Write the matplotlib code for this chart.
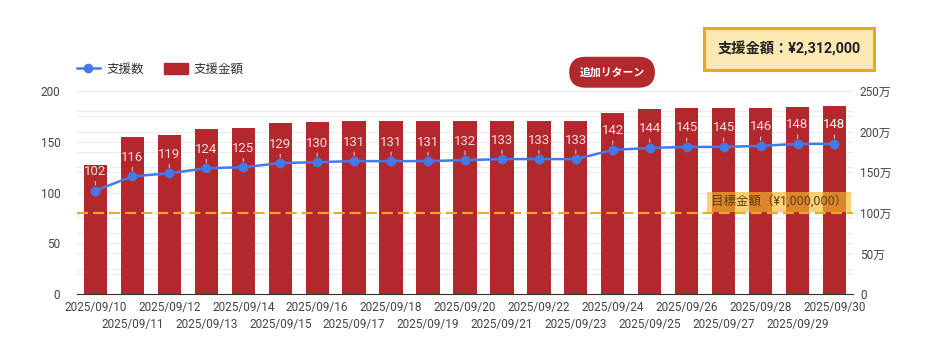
import numpy as np
import matplotlib
matplotlib.use("Agg")
import matplotlib.pyplot as plt
from matplotlib.lines import Line2D
from matplotlib.patches import Patch

plt.rcParams['font.family'] = ['Roboto', 'Noto Sans CJK JP', 'DejaVu Sans']

# data
dates = ['2025/09/%02d' % d for d in range(10, 31)]
counts = [102, 116, 119, 124, 125, 129, 130, 131, 131, 131, 132,
          133, 133, 133, 142, 144, 145, 145, 146, 148, 148]
amounts = [1593000, 1936000, 1960000, 2030000, 2043000, 2104000, 2116000,
           2129000, 2129000, 2129000, 2129000, 2129000, 2129000, 2129000,
           2236000, 2280000, 2288000, 2290000, 2295000, 2310000, 2312000]
target = 1000000
total_text = '支援金額：¥2,312,000'

bar_color = '#b3282d'
line_color = '#4479ea'
gold = '#f0a91c'
txt = '#444444'

fig = plt.figure(figsize=(9.33, 3.63), dpi=100)
ax = fig.add_axes([0.0825, 0.19, 0.8317, 0.559])   # bars, right scale
ax2 = ax.twinx()                                     # line, left scale
ax.yaxis.tick_right()
ax2.yaxis.tick_left()

x = np.arange(len(dates))
ax.bar(x, amounts, width=0.63, color=bar_color, zorder=2)
ax.set_ylim(0, 2500000)
ax.set_xlim(-0.5, len(dates) - 0.5)
ax2.set_ylim(0, 200)

# grid (both scales, kept under the bars)
ax.set_axisbelow(True)
ax.set_yticks(np.arange(0, 2500001, 500000))
ax.set_yticks(np.arange(0, 2500001, 250000), minor=True)
ax.set_yticklabels(['0' if v == 0 else '%d万' % (v // 10000)
                    for v in np.arange(0, 2500001, 500000)])
ax.grid(axis='y', which='both', color='#ececec', lw=0.8)
scale = 2500000 / 200
ax.hlines([v * scale for v in np.arange(25, 201, 25)], -0.5, len(dates) - 0.5,
          color='#ececec', lw=0.8, zorder=0)

# target line
ax.axhline(target, color=gold, lw=1.5, ls=(0, (5.3, 2.4)), zorder=3)
ax.annotate('目標金額（¥1,000,000）', xy=(1, target),
            xycoords=('axes fraction', 'data'), xytext=(-4, 8),
            textcoords='offset points', ha='right', va='center',
            fontsize=9, color='#5a3d0c', zorder=4,
            bbox=dict(boxstyle='square,pad=0.3', fc='#f5b82e', ec='none', alpha=0.65))

# count line
ax2.plot(x, counts, color=line_color, lw=1.8, marker='o', ms=6, zorder=5)
for i, c in enumerate(counts):
    last = i == len(counts) - 1
    ax2.annotate(str(c), xy=(i, c), xytext=(0, 9), textcoords='offset points',
                 ha='center', va='bottom', fontsize=9.5,
                 color='white' if last else '#f6dcdc',
                 arrowprops=dict(arrowstyle='-', color='#e2b8b8', lw=0.8,
                                 relpos=(0.5, 0), shrinkA=0.5, shrinkB=4))

# x labels in two rows
ax.set_xticks(x[::2], dates[::2])
ax.set_xticks(x[1::2], dates[1::2], minor=True)
ax.tick_params(axis='x', which='major', length=0, pad=5, labelsize=8.5, labelcolor=txt)
ax.tick_params(axis='x', which='minor', length=0, pad=17, labelsize=8.5, labelcolor=txt)
ax.tick_params(axis='y', which='both', length=0, pad=5, labelsize=8.5, labelcolor=txt)
ax2.tick_params(axis='y', length=0, pad=12, labelsize=8.5, labelcolor=txt)
ax2.set_yticks(np.arange(0, 201, 50))

for a in (ax, ax2):
    for s in ('top', 'left', 'right'):
        a.spines[s].set_visible(False)
ax2.spines['bottom'].set_visible(False)
ax.spines['bottom'].set_color('#333333')
ax.spines['bottom'].set_zorder(6)

# legend
handles = [Line2D([], [], color=line_color, lw=1.8, marker='o', ms=6),
           Patch(color=bar_color)]
ax2.legend(handles, ['支援数', '支援金額'], loc='center left',
           bbox_to_anchor=(0.082, 0.81), bbox_transform=fig.transFigure,
           ncol=2, frameon=False, fontsize=9, handlelength=1.9,
           handleheight=0.96, handletextpad=0.5, columnspacing=1.6,
           borderpad=0, borderaxespad=0, labelcolor='#333333')

# header boxes
fig.text(0.8455, 0.866, total_text, ha='center', va='center', fontsize=10.3,
         fontweight='bold', color='#222222',
         bbox=dict(boxstyle='square,pad=0.95', fc='#fbe8b2', ec='#e8a820', lw=2.2))
fig.text(0.656, 0.801, '追加リターン', ha='center', va='center', fontsize=7.8,
         fontweight='bold', color='white',
         bbox=dict(boxstyle='round,pad=0.95,rounding_size=1.5', fc=bar_color, ec='none'))

fig.savefig('out.png', dpi=100, facecolor='white')
